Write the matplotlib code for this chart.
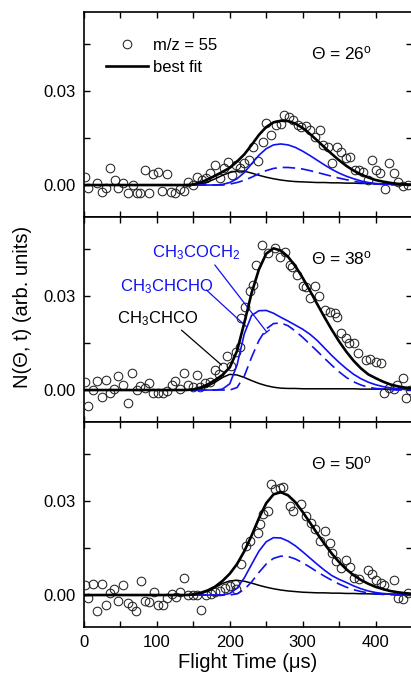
import numpy as np
import matplotlib
matplotlib.use('Agg')
import matplotlib.pyplot as plt
from matplotlib.ticker import MultipleLocator

plt.rcParams['font.family'] = ['Liberation Sans', 'DejaVu Sans']
plt.rcParams['mathtext.fontset'] = 'custom'
plt.rcParams['mathtext.rm'] = 'Liberation Sans'
plt.rcParams['mathtext.it'] = 'Liberation Sans:italic'

# ---- measured data (m/z = 55) ----
t26 = [1.4, 5.9, 17.4, 24.2, 30.1, 35.6, 42.5, 47.0, 53.9, 60.7, 66.7, 72.1, 76.7, 83.6, 89.5,
       95.0, 101.8, 107.3, 114.2, 118.7, 124.7, 131.5, 137.5, 143.0, 149.8, 155.3, 161.6, 168.0,
       173.5, 179.5, 186.3, 191.8, 198.2, 203.7, 209.1, 213.7, 219.6, 226.5, 232.0, 238.8, 245.7,
       250.2, 257.1, 263.0, 269.9, 274.4, 281.3, 286.8, 293.6, 298.2, 305.0, 310.5, 316.4, 323.3,
       327.9, 334.7, 340.6, 347.0, 352.9, 358.9, 364.4, 371.2, 377.2, 382.6, 389.5, 395.4, 400.9,
       405.5, 412.3, 418.3, 424.7, 430.6, 437.4, 444.3]
y26 = [0.0027, -0.0011, 0.0005, -0.0021, -0.0011, 0.0055, 0.0016, -0.0011, 0.0005, -0.0027, 0.0,
       -0.0027, -0.0027, 0.0048, -0.0024, 0.0035, 0.0043, -0.0019, 0.0034, -0.0021, -0.0024, -0.0014,
       -0.0019, 0.0011, 0.0, 0.0027, 0.0016, 0.0021, 0.0037, 0.0064, 0.0021, 0.0053, 0.0074, 0.0032,
       0.0064, 0.0053, 0.0069, 0.0080, 0.0122, 0.0078, 0.0138, 0.0197, 0.0160, 0.0192, 0.0194, 0.0223,
       0.0216, 0.0207, 0.0192, 0.0186, 0.0188, 0.0176, 0.0154, 0.0176, 0.0128, 0.0120, 0.0069, 0.0122,
       0.0106, 0.0085, 0.0090, 0.0048, 0.0048, 0.0043, 0.0016, 0.0080, 0.0048, 0.0037, -0.0014, 0.0071,
       0.0039, 0.0011, -0.0003, 0.0]

t38 = [1.4, 5.9, 12.8, 17.4, 24.2, 30.1, 35.6, 41.6, 47.0, 53.9, 59.8, 65.3, 72.1, 76.7, 83.6, 89.5,
       95.0, 101.8, 107.7, 113.2, 120.1, 125.5, 131.5, 137.0, 142.9, 148.9, 155.3, 159.8, 166.2, 172.6,
       179.5, 185.4, 190.9, 196.3, 202.3, 208.2, 213.7, 216.0, 220.5, 227.4, 232.0, 236.0, 244.7, 252.5,
       261.6, 269.4, 275.3, 282.2, 285.8, 292.4, 300.5, 305.0, 310.5, 316.4, 323.0, 330.1, 337.0, 343.8,
       347.0, 353.0, 358.9, 364.0, 370.3, 376.0, 387.0, 391.8, 401.0, 407.8, 412.0, 419.0, 425.0, 430.0,
       437.0, 442.0, 447.0]
y38 = [0.0027, -0.0051, 0.0, 0.0030, -0.0021, 0.0032, -0.0011, 0.0002, 0.0045, 0.0016, -0.0040, 0.0055,
       0.0, 0.0013, 0.0005, 0.0021, -0.0011, -0.0009, -0.0009, -0.0002, 0.0016, 0.0030, 0.0002, 0.0055,
       0.0016, 0.0010, 0.0048, 0.0010, 0.0023, 0.0026, 0.0065, 0.0052, 0.0073, 0.0110, 0.0078, 0.0121,
       0.0137, 0.0229, 0.0266, 0.0316, 0.0335, 0.0399, 0.0463, 0.0436, 0.0452, 0.0425, 0.0441, 0.0399,
       0.0393, 0.0367, 0.0332, 0.0330, 0.0292, 0.0332, 0.0300, 0.0255, 0.0250, 0.0245, 0.0232, 0.0183,
       0.0165, 0.0150, 0.0151, 0.0118, 0.0096, 0.0098, 0.0090, 0.0085, -0.0011, 0.0005, 0.0003, 0.0016,
       0.0037, -0.0027, 0.0]

t50 = [1.4, 5.9, 12.8, 17.4, 24.2, 30.1, 35.6, 41.6, 47.0, 53.9, 59.8, 65.3, 71.2, 77.6, 83.6, 89.5,
       95.9, 101.8, 107.7, 114.2, 120.1, 126.0, 131.5, 137.4, 142.9, 148.9, 155.3, 161.2, 167.1, 174.9,
       179.5, 186.3, 193.2, 200.0, 207.0, 209.1, 216.0, 222.8, 227.4, 238.8, 241.1, 245.7, 252.5, 257.1,
       261.6, 268.5, 273.1, 282.2, 286.8, 298.2, 305.0, 311.9, 316.4, 323.3, 330.1, 337.0, 340.6, 346.1,
       353.0, 359.8, 364.4, 371.0, 377.0, 389.5, 395.4, 401.0, 407.8, 412.0, 424.7, 430.6, 437.4, 444.0]
y50 = [0.0032, -0.0011, 0.0034, -0.0051, 0.0036, -0.0032, 0.0007, 0.0018, -0.0019, 0.0031, -0.0024,
       -0.0035, -0.0051, 0.0045, -0.0019, -0.0021, 0.0011, -0.0032, -0.0032, -0.0011, 0.0002, -0.0006,
       0.0011, 0.0053, 0.0, 0.0, 0.0, -0.0049, 0.0, 0.0002, 0.0011, 0.0013, 0.0023, 0.0029, 0.0034,
       0.0018, 0.0098, 0.0156, 0.0172, 0.0199, 0.0226, 0.0257, 0.0268, 0.0353, 0.0337, 0.0342, 0.0345,
       0.0284, 0.0268, 0.0291, 0.0252, 0.0231, 0.0210, 0.0172, 0.0204, 0.0167, 0.0135, 0.0108, 0.0087,
       0.0111, 0.0089, 0.0055, 0.0050, 0.0079, 0.0068, 0.0047, 0.0039, 0.0032, 0.0047, -0.0009, -0.0014,
       0.0007]

# ---- fit curves, read at fit_t ----
fit_t = [0, 130, 140, 150, 160, 170, 180, 190, 200, 210, 220, 230, 240, 250, 260, 270, 280,
         290, 300, 310, 320, 330, 340, 350, 360, 370, 380, 390, 400, 410, 420, 430, 440, 450]

total26 = [0, 0, 0, 0.0002, 0.0008, 0.0018, 0.0030, 0.0042, 0.0055, 0.0075, 0.0098, 0.0128, 0.0160,
           0.0185, 0.0200, 0.0205, 0.0204, 0.0196, 0.0182, 0.0163, 0.0142, 0.0120, 0.0099, 0.0079,
           0.0061, 0.0046, 0.0034, 0.0024, 0.0016, 0.0011, 0.0007, 0.0004, 0.0002, 0.0001]
chco26 = [0, 0, 0, 0, 0.0003, 0.0010, 0.0020, 0.0031, 0.0040, 0.0045, 0.0044, 0.0038, 0.0031, 0.0025,
          0.0020, 0.0016, 0.0013, 0.0011, 0.0010, 0.0009, 0.0008, 0.0008, 0.0007, 0.0007, 0.0006,
          0.0006, 0.0005, 0.0005, 0.0004, 0.0004, 0.0003, 0.0003, 0.0002, 0.0002]
chcho26 = [0, 0, 0, 0, 0, 0, 0, 0.0002, 0.0008, 0.0020, 0.0040, 0.0068, 0.0095, 0.0116, 0.0128, 0.0131,
           0.0128, 0.0120, 0.0108, 0.0094, 0.0079, 0.0064, 0.0050, 0.0038, 0.0028, 0.0020, 0.0013,
           0.0008, 0.0005, 0.0003, 0.0002, 0.0001, 0, 0]
coch2_26 = [0, 0, 0, 0, 0, 0, 0, 0, 0.0003, 0.0008, 0.0015, 0.0025, 0.0036, 0.0046, 0.0053, 0.0056,
            0.0056, 0.0054, 0.0051, 0.0046, 0.0040, 0.0034, 0.0028, 0.0022, 0.0017, 0.0012, 0.0008,
            0.0005, 0.0003, 0.0002, 0.0001, 0, 0, 0]

total38 = [0, 0, 0, 0.0002, 0.0008, 0.0018, 0.0032, 0.0048, 0.0072, 0.0125, 0.0215, 0.0310, 0.0385,
           0.0435, 0.0452, 0.0445, 0.0425, 0.0395, 0.0358, 0.0317, 0.0274, 0.0232, 0.0192, 0.0155,
           0.0122, 0.0093, 0.0069, 0.0050, 0.0038, 0.0027, 0.0018, 0.0012, 0.0008, 0.0005]
chco38 = [0, 0, 0, 0, 0.0004, 0.0012, 0.0025, 0.0040, 0.0050, 0.0048, 0.0040, 0.0030, 0.0021, 0.0014,
          0.0009, 0.0006, 0.0005, 0.0005, 0.0004, 0.0004, 0.0004, 0.0004, 0.0004, 0.0004, 0.0004,
          0.0004, 0.0003, 0.0003, 0.0003, 0.0003, 0.0003, 0.0003, 0.0003, 0.0003]
chcho38 = [0, 0, 0, 0, 0, 0, 0, 0.0003, 0.0020, 0.0080, 0.0180, 0.0238, 0.0253, 0.0254, 0.0245, 0.0232,
           0.0220, 0.0207, 0.0194, 0.0178, 0.0158, 0.0134, 0.0110, 0.0088, 0.0068, 0.0050, 0.0036,
           0.0025, 0.0017, 0.0011, 0.0007, 0.0004, 0.0002, 0.0001]
coch2_38 = [0, 0, 0, 0, 0, 0, 0, 0, 0, 0.0008, 0.0045, 0.0105, 0.0158, 0.0195, 0.0212, 0.0214, 0.0205,
            0.0188, 0.0168, 0.0146, 0.0124, 0.0101, 0.0079, 0.0058, 0.0040, 0.0026, 0.0016, 0.0009,
            0.0005, 0.0003, 0.0001, 0, 0, 0]

total50 = [0, 0, 0, 0.0002, 0.0007, 0.0015, 0.0027, 0.0045, 0.0068, 0.0099, 0.0140, 0.0190, 0.0245,
           0.0293, 0.0321, 0.0328, 0.0318, 0.0296, 0.0265, 0.0231, 0.0196, 0.0163, 0.0132, 0.0105,
           0.0082, 0.0063, 0.0048, 0.0036, 0.0026, 0.0019, 0.0013, 0.0009, 0.0006, 0.0004]
chco50 = [0, 0, 0, 0, 0.0004, 0.0012, 0.0024, 0.0037, 0.0045, 0.0047, 0.0044, 0.0038, 0.0031, 0.0025,
          0.0020, 0.0016, 0.0013, 0.0011, 0.0009, 0.0008, 0.0007, 0.0007, 0.0006, 0.0006, 0.0005,
          0.0005, 0.0004, 0.0004, 0.0003, 0.0003, 0.0003, 0.0003, 0.0002, 0.0002]
chcho50 = [0, 0, 0, 0, 0, 0, 0, 0, 0.0005, 0.0022, 0.0055, 0.0098, 0.0140, 0.0170, 0.0183, 0.0182,
           0.0172, 0.0157, 0.0138, 0.0118, 0.0098, 0.0079, 0.0062, 0.0050, 0.0040, 0.0029, 0.0020,
           0.0013, 0.0008, 0.0005, 0.0003, 0.0001, 0, 0]
coch2_50 = [0, 0, 0, 0, 0, 0, 0, 0, 0, 0.0004, 0.0018, 0.0042, 0.0072, 0.0099, 0.0117, 0.0124, 0.0123,
            0.0115, 0.0103, 0.0089, 0.0074, 0.0060, 0.0047, 0.0035, 0.0025, 0.0017, 0.0011, 0.0007,
            0.0004, 0.0002, 0.0001, 0, 0, 0]

angles = ['26', '38', '50']
panels = [(t26, y26, total26, chco26, chcho26, coch2_26),
          (t38, y38, total38, chco38, chcho38, coch2_38),
          (t50, y50, total50, chco50, chcho50, coch2_50)]

blue = '#1010f0'

fig = plt.figure(figsize=(4.11, 6.78), dpi=100)
left, width = 84/411, 328/411
ph = 205/678
bottom0 = 51/678
axes = []
for i in range(3):
    ax = fig.add_axes([left, bottom0 + (2 - i)*ph, width, ph])
    axes.append(ax)

for i, ax in enumerate(axes):
    t, y, tot, chco, chcho, coch2 = panels[i]
    ax.plot(t, y, 'o', mfc='none', mec='#222222', ms=6.2, mew=0.75, label='m/z = 55', zorder=3)
    ax.plot(fit_t, chco, color='black', lw=1.1, zorder=4)
    ax.plot(fit_t, chcho, color=blue, lw=1.2, zorder=4)
    ax.plot(fit_t, coch2, color=blue, lw=1.2, dashes=[7.5, 3.5], zorder=4)
    ax.plot(fit_t, tot, color='black', lw=1.9, label='best fit', zorder=5)

    ax.set_xlim(0, 450)
    ax.set_ylim(-0.0102, 0.0552)
    ax.xaxis.set_major_locator(MultipleLocator(100))
    ax.xaxis.set_minor_locator(MultipleLocator(50))
    ax.set_yticks([0.0, 0.03])
    ax.set_yticklabels(['0.00', '0.03'])
    ax.yaxis.set_minor_locator(MultipleLocator(0.015))
    ax.tick_params(which='both', direction='in', top=True, right=True, length=4,
                   width=1.0, labelsize=12, pad=6)
    for s in ax.spines.values():
        s.set_linewidth(1.2)
    if i < 2:
        ax.tick_params(labelbottom=False)
    ax.text(312, 0.042, 'Θ = ' + angles[i] + r'$^{\mathrm{o}}$', fontsize=12.5, va='center')

axes[0].legend(loc='upper left', bbox_to_anchor=(0.068, 0.875), frameon=False, fontsize=12,
               handlelength=2.5, handletextpad=0.3, labelspacing=0.45, borderpad=0, borderaxespad=0)

ax = axes[1]
ax.text(93, 0.0437, r'CH$_3$COCH$_2$', color=blue, fontsize=12, va='center')
ax.text(49, 0.0330, r'CH$_3$CHCHO', color=blue, fontsize=12, va='center')
ax.text(45, 0.0229, r'CH$_3$CHCO', color='black', fontsize=12, va='center')
ax.annotate('', xy=(250.7, 0.0185), xytext=(179.5, 0.0399),
            arrowprops=dict(arrowstyle='-[, widthB=0.25, lengthB=0', color=blue, lw=0.9,
                            shrinkA=0, shrinkB=0))
ax.annotate('', xy=(222.9, 0.0202), xytext=(168, 0.0319),
            arrowprops=dict(arrowstyle='-', color=blue, lw=0.9, shrinkA=0, shrinkB=0))
ax.annotate('', xy=(188.6, 0.0080), xytext=(133.8, 0.0191),
            arrowprops=dict(arrowstyle='-', color='black', lw=0.9, shrinkA=0, shrinkB=0))

axes[2].set_xlabel('Flight Time (μs)', fontsize=14.5, labelpad=2)
fig.text(22/411, 1 - 307/678, 'N(Θ, t) (arb. units)', rotation=90, fontsize=14.5,
         ha='center', va='center')

fig.savefig('out.png', dpi=100)
